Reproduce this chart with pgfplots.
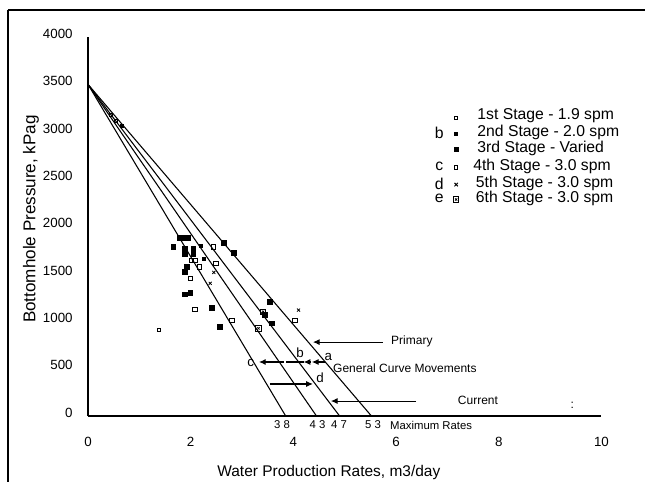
\documentclass[border=0pt]{standalone}
\usepackage{fontspec}
\setmainfont{Liberation Sans}
\usepackage{pgfplots}
\pgfplotsset{compat=1.18}
\usetikzlibrary{arrows.meta}
\begin{document}
\begin{tikzpicture}
\begin{axis}[
 at={(0,0)}, anchor=south west,
 scale only axis, width=385.1pt, height=284.25pt,
 xmin=0, xmax=10, ymin=0, ymax=4000,
 axis lines=left, axis line style={-, line width=1pt},
 xtick={0,2,...,10}, ytick={0,500,...,4000},
 major tick length=0pt,
 /pgf/number format/assume math mode=true,
 /pgf/number format/1000 sep={},
 ticklabel style={font=\fontsize{10}{12}\selectfont},
 xticklabel style={anchor=center, yshift=-19.5pt},
 yticklabel style={anchor=east, xshift=-8pt, yshift=2.5pt},
 clip=false,
]
% IPR lines
\addplot[black, line width=0.8pt] coordinates {(0,3500) (3.85,0)};
\addplot[black, line width=0.8pt] coordinates {(0,3500) (4.45,0)};
\addplot[black, line width=0.8pt] coordinates {(0,3500) (4.9,0)};
\addplot[black, line width=0.8pt] coordinates {(0,3500) (5.52,0)};
% 1st stage
\addplot[only marks, mark=square, mark size=1.1pt, black, line width=0.5pt] coordinates {(1.38,907) (0.45,3180) (0.55,3120)};
% 2nd stage
\addplot[only marks, mark=square*, mark size=1.1pt, black] coordinates {(2.2,1796) (2.25,1664) (0.65,3060)};
% 3rd stage
\addplot[only marks, mark=square*, mark size=1.8pt, black] coordinates {
(1.66,1786) (1.78,1881) (1.86,1881) (1.94,1881) (1.89,1769) (2.05,1769)
(1.89,1716) (2.05,1716) (1.92,1575) (1.89,1522) (1.89,1284) (1.99,1300)
(2.41,1146) (2.57,942) (2.65,1825) (2.84,1720) (3.54,1206) (3.45,1066) (3.58,978)};
% 4th stage
\addplot[only marks, mark=square, mark size=1.6pt, black, line width=0.6pt] coordinates {
(2.44,1786) (2.02,1646) (2.08,1646) (2.17,1575) (2.49,1611) (1.99,1452)
(2.08,1125) (2.8,1006) (4.03,1006)};
% 5th stage
\addplot[only marks, mark=x, mark size=1.6pt, black, line width=0.6pt] coordinates {(4.1,1118) (2.45,1515) (2.38,1400)};
% 6th stage
\addplot[only marks, mark=square, mark size=2pt, black, line width=0.6pt] coordinates {(3.41,1100) (3.32,925)};
\addplot[only marks, mark=x, mark size=1.2pt, black, line width=0.5pt] coordinates {(3.41,1100) (3.32,925)};
% legend symbols
\addplot[only marks, mark=square, mark size=1.1pt, black, line width=0.5pt] coordinates {(7.17,3150)};
\addplot[only marks, mark=square*, mark size=1.1pt, black] coordinates {(7.17,2981)};
\addplot[only marks, mark=square*, mark size=1.5pt, black] coordinates {(7.17,2812)};
\addplot[only marks, mark=square, mark size=1.3pt, black, line width=0.6pt] coordinates {(7.17,2622)};
\addplot[only marks, mark=x, mark size=1.8pt, black, line width=0.7pt] coordinates {(7.17,2443)};
\addplot[only marks, mark=square, mark size=2pt, black, line width=0.6pt] coordinates {(7.17,2285)};
\addplot[only marks, mark=x, mark size=1.2pt, black, line width=0.5pt] coordinates {(7.17,2285)};
% legend texts
\begin{scope}[every node/.style={anchor=west, inner sep=0pt, font=\fontsize{11.8}{13}\selectfont}]
\node at (axis cs:7.58,3165) {1st Stage - 1.9 spm};
\node at (axis cs:7.58,2996) {2nd Stage - 2.0 spm};
\node at (axis cs:7.58,2827) {3rd Stage - Varied};
\node at (axis cs:7.50,2637) {4th Stage - 3.0 spm};
\node at (axis cs:7.55,2458) {5th Stage - 3.0 spm};
\node at (axis cs:7.55,2300) {6th Stage - 3.0 spm};
\end{scope}
\begin{scope}[every node/.style={anchor=center, inner sep=0pt, font=\fontsize{11.8}{13}\selectfont}]
\node at (axis cs:6.84,2990) {b};
\node at (axis cs:6.84,2630) {c};
\node at (axis cs:6.84,2452) {d};
\node at (axis cs:6.84,2292) {e};
\end{scope}
% annotations
\draw[line width=0.8pt, -{Latex[length=5pt,width=4.5pt]}] (axis cs:5.74,780) -- (axis cs:4.38,780);
\node[anchor=west, inner sep=0pt, font=\fontsize{9}{11}\selectfont] at (axis cs:5.9,790) {Primary};
\draw[line width=0.8pt, -{Latex[length=5pt,width=4.5pt]}] (axis cs:4.62,570) -- (axis cs:4.36,570);
\draw[line width=0.8pt, -{Latex[length=5pt,width=4.5pt]}] (axis cs:4.32,570) -- (axis cs:4.2,570);
\draw[line width=0.8pt] (axis cs:4.2,570) -- (axis cs:3.85,570);
\draw[line width=0.8pt, -{Latex[length=5pt,width=4.5pt]}] (axis cs:3.82,570) -- (axis cs:3.33,570);
\node[font=\fontsize{10}{12}\selectfont, inner sep=0pt] at (axis cs:4.68,625) {a};
\node[font=\fontsize{10}{12}\selectfont, inner sep=0pt] at (axis cs:4.13,670) {b};
\node[font=\fontsize{10}{12}\selectfont, inner sep=0pt] at (axis cs:3.17,560) {c};
\node[anchor=west, inner sep=0pt, font=\fontsize{9}{11}\selectfont] at (axis cs:4.77,506) {General Curve Movements};
\draw[line width=0.8pt, -{Latex[length=5pt,width=4.5pt]}] (axis cs:3.54,338) -- (axis cs:4.38,338);
\node[font=\fontsize{10}{12}\selectfont, inner sep=0pt] at (axis cs:4.52,400) {d};
\draw[line width=0.8pt, -{Latex[length=5pt,width=4.5pt]}] (axis cs:6.39,158) -- (axis cs:4.73,158);
\node[anchor=west, inner sep=0pt, font=\fontsize{9}{11}\selectfont] at (axis cs:7.2,165) {Current};
\node[inner sep=0pt, font=\fontsize{9}{11}\selectfont] at (axis cs:9.43,116) {:};
\begin{scope}[every node/.style={inner sep=0pt, font=\fontsize{8.5}{10}\selectfont}]
\node at (axis cs:3.78,-95) {3 8};
\node at (axis cs:4.47,-95) {4 3};
\node at (axis cs:4.89,-95) {4 7};
\node at (axis cs:5.55,-95) {5 3};
\node[anchor=west] at (axis cs:5.88,-95) {Maximum Rates};
\end{scope}
% axis labels
\node[rotate=90, inner sep=0pt, font=\fontsize{12.8}{14}\selectfont] at (axis cs:-1.11,2078) {Bottomhole Pressure, kPag};
\node[inner sep=0pt, font=\fontsize{11.6}{13}\selectfont] at (axis cs:4.69,-591) {Water Production Rates, m3/day};
\end{axis}
% scanned page frame
\draw[line width=1.8pt] (-60pt,304.5pt) -- (-60pt,-49.5pt);
\draw[line width=1pt] (-60pt,304.5pt) -- (417.75pt,304.5pt);
\pgfresetboundingbox
\path[use as bounding box] (-66pt,-49.5pt) rectangle (417.75pt,312pt);
\end{tikzpicture}
\end{document}
